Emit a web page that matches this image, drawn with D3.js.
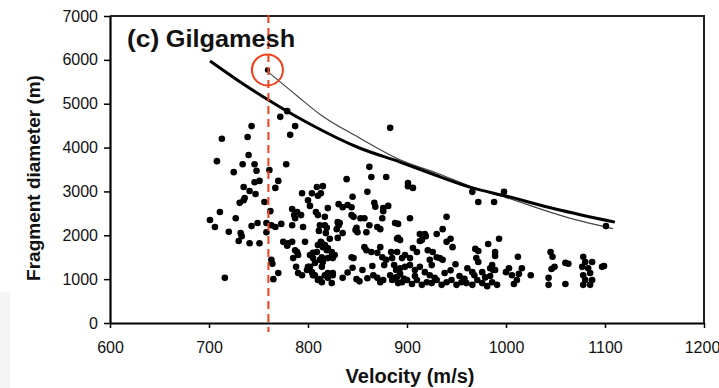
<!DOCTYPE html>
<html>
<head>
<meta charset="utf-8">
<script src="https://cdn.jsdelivr.net/npm/d3@7"></script>
<style>
  body { margin: 0; background: #fff; }
  svg { display: block; font-family: "Liberation Sans", Arial, sans-serif; }
</style>
</head>
<body>
<div id="chart"></div>
<script>
//data
var xTicks = [600, 700, 800, 900, 1000, 1100, 1200];
var yTicks = [0, 1000, 2000, 3000, 4000, 5000, 6000, 7000];

// [velocity m/s, fragment diameter m]
var fragments = [
    // upper left
    [713,4200],[708,3690],[743,4490],[739,4240],[772,4700],[779,4830],[787,4490],[782,4290],
    [740,3830],[734,3620],[746,3620],[778,3620],[748,3470],[725,3440],[761,3490],
    [746,3210],[751,3240],[770,3240],[735,3100],[741,3010],[767,3080],[747,2940],
    // mid left
    [736,2850],[731,2740],[735,2800],[756,2760],[711,2530],[701,2350],[727,2390],[762,2550],
    [706,2190],[720,2080],[732,2050],[733,1980],[743,2210],[749,2280],[758,2280],[763,2230],
    [767,2190],[758,2070],[773,2260],[730,1870],[741,1820],[751,1820],[784,2600],[786,2460],
    [784,2230],[775,1850],[780,1820],[784,1850],[789,1620],[779,1760],[763,1440],[764,1350],
    [785,1480],[788,1280],[770,1140],[765,1000],[716,1030],[790,1140],
    // 790 - 890, upper
    [862,3560],[864,3330],[879,3330],[839,3280],[815,3120],[809,3100],[794,2960],[804,2960],
    [813,2960],[810,2900],[800,2800],[845,2880],[860,2990],[802,2670],[831,2710],[835,2640],
    [820,2620],[867,2740],[868,2650],[876,2620],[881,2670],[789,2530],[793,2460],[808,2530],
    [810,2460],[817,2420],[844,2460],[846,2420],[853,2390],[857,2390],[875,2390],[888,2280],
    [830,2300],[831,2230],[862,2230],[870,2190],[795,2190],[812,2230],[817,2230],[787,2390],
    [840,2690],[844,2640],[876,2550],[832,2280],[849,2170],[850,2070],[835,2050],
    // 790 - 890, lower
    [811,2100],[819,2170],[818,2050],[829,2140],[830,1940],[848,2120],[859,2070],[873,2140],
    [797,1850],[822,1920],[890,1920],[787,1660],[790,1550],[802,1550],[810,1780],[813,1850],
    [815,1730],[819,1660],[820,1480],[824,1520],[805,1480],[807,1370],[800,1280],[799,1210],
    [812,1440],[827,1550],[844,1500],[846,1480],[857,1730],[859,1660],[864,1620],[870,1600],
    [873,1730],[875,1500],[879,1440],[877,1320],[884,1620],[885,1480],[887,1320],[889,1210],
    [794,1090],[804,1160],[807,1090],[810,980],[814,930],[817,1090],[820,1030],[824,910],
    [825,1090],[835,1030],[849,1000],[855,1210],[866,1090],[870,1030],[873,930],[876,980],
    [883,1090],[885,980],[888,1030],[891,910],[814,1820],[817,1780],[820,1710],[824,1620],
    [809,1620],[805,1600],[814,1500],[815,1390],[825,1480],[802,1280],[814,1280],[805,1090],
    [812,1000],[820,1140],[825,1140],[840,1150],[860,1020],[852,950],[845,1260],[865,1300],
    // 890 - 1000, upper
    [883,4450],[901,3190],[901,3120],[906,3080],[966,2990],[972,2760],[988,2760],[998,2990],
    [891,2260],[903,2390],[940,2420],[936,2140],[913,2030],[918,2030],[915,1890],[930,2030],
    [940,1850],[944,1920],[946,1730],[969,1690],[972,1640],[982,1800],[993,1920],[989,1620],
    [989,1530],[970,1480],[972,1390],[986,1320],[987,1210],
    // 890 - 1000, lower
    [891,1940],[893,1890],[913,1870],[919,1980],[949,1340],[961,1250],[966,1160],[976,1160],
    [984,1250],[989,1210],[890,1620],[895,1480],[898,1550],[903,1480],[906,1710],[910,1620],
    [921,1660],[926,1620],[930,1500],[933,1480],[936,1440],[923,1440],[925,1320],[893,1250],
    [898,1280],[903,1320],[908,1210],[913,1280],[918,1160],
    [890,1050],[895,930],[900,980],[905,890],[910,980],[915,870],[920,930],[925,910],
    [930,980],[935,870],[940,930],[945,980],[950,870],[955,930],[960,910],[966,870],
    [971,980],[976,910],[981,840],[986,930],[991,870],
    [893,1120],[908,1070],[923,1090],[938,1140],[953,1070],[968,1090],[984,1070],
    [897,1010],[928,1030],[958,1010],[944,1200],[979,1040],
    // 1000 - 1110
    [1101,2210],[1012,1510],[1003,1250],[1016,1250],[1013,1120],[1006,1090],[1011,980],
    [1008,890],[1000,1160],[1025,1090],[1045,1620],[1047,1510],[1046,1230],[1049,1280],
    [1043,1030],[1043,870],[1060,1370],[1063,1350],[1060,890],[1078,1510],[1080,1390],
    [1087,1390],[1077,1280],[1083,1250],[1078,1090],[1085,1140],[1080,980],[1087,980],
    [1078,870],[1085,870],[1097,1280],[1099,1300]
];

// circled fragment
var highlight = [759, 5770];
var highlightVelocity = 760;

// thick curve, read at a few velocities
var thickCurve = [
    [701,5975],[730,5520],[760,5085],[800,4560],[852,3990],[893,3670],
    [923,3420],[966,3080],[999,2900],[1050,2600],[1110,2300]
];

// thin curve from the circled fragment
var thinCurve = [
    [760,5720],[790,5160],[812,4760],[852,4220],[893,3720],[930,3420],
    [966,3100],[1000,2860],[1060,2420],[1108,2150]
];
//end data

var width = 719, height = 388;
var margin = {top: 16, right: 15, bottom: 65, left: 110};

var svg = d3.select('#chart').append('svg')
    .attr('width', width)
    .attr('height', height);

// faint grey band at the lower left edge
svg.append('rect')
    .attr('x', 0).attr('y', 292)
    .attr('width', 10).attr('height', 96)
    .attr('fill', '#f5f5f5');

var x = d3.scaleLinear()
    .domain([600, 1200])
    .range([margin.left, width - margin.right]);

var y = d3.scaleLinear()
    .domain([0, 7000])
    .range([height - margin.bottom, margin.top]);

// frame top and right
svg.append('path')
    .attr('d', 'M' + x(600) + ',' + y(7000) + 'H' + x(1200) + 'V' + y(0))
    .attr('fill', 'none')
    .attr('stroke', '#222')
    .attr('stroke-width', 2);

var fmt = d3.format('d');

var xAxis = svg.append('g')
    .attr('transform', 'translate(0,' + y(0) + ')')
    .call(d3.axisBottom(x).tickValues(xTicks).tickFormat(fmt)
        .tickSize(5).tickPadding(14).tickSizeOuter(0));

var yAxis = svg.append('g')
    .attr('transform', 'translate(' + x(600) + ',0)')
    .call(d3.axisLeft(y).tickValues(yTicks).tickFormat(fmt)
        .tickSize(6).tickPadding(6).tickSizeOuter(0));

[xAxis, yAxis].forEach(function(a){
    a.select('.domain').attr('stroke', '#000').attr('stroke-width', 2.2);
    a.selectAll('.tick line').attr('stroke', '#000').attr('stroke-width', 1.5);
    a.selectAll('.tick text')
        .attr('fill', '#111')
        .style('font-size', '16px')
        .style('font-family', '"Liberation Sans", Arial, sans-serif');
});

// last label sits right at the edge, pull it in a little
xAxis.selectAll('.tick text')
    .filter(function(d){ return d === 1200; })
    .attr('dx', -2);

var line = d3.line()
    .x(function(d){ return x(d[0]); })
    .y(function(d){ return y(d[1]); })
    .curve(d3.curveMonotoneX);

// thin curve
svg.append('path')
    .datum(thinCurve)
    .attr('d', line)
    .attr('fill', 'none')
    .attr('stroke', '#444')
    .attr('stroke-width', 1.2);

// thick curve
svg.append('path')
    .datum(thickCurve)
    .attr('d', line)
    .attr('fill', 'none')
    .attr('stroke', '#000')
    .attr('stroke-width', 3);

// fragments
svg.append('g').selectAll('circle')
    .data(fragments.concat([highlight]))
    .enter().append('circle')
    .attr('cx', function(d){ return x(d[0]); })
    .attr('cy', function(d){ return y(d[1]); })
    .attr('r', function(d){ return d === highlight ? 2.6 : 3.3; })
    .attr('fill', '#000');

// red dashed line
svg.append('line')
    .attr('x1', x(highlightVelocity)).attr('x2', x(highlightVelocity))
    .attr('y1', y(7000) - 1).attr('y2', y(0) + 9)
    .attr('stroke', '#f0401c')
    .attr('stroke-width', 2)
    .attr('stroke-dasharray', '8,5');

// red circle
svg.append('circle')
    .attr('cx', x(highlight[0]))
    .attr('cy', y(highlight[1]))
    .attr('r', 15.5)
    .attr('fill', 'none')
    .attr('stroke', '#f0401c')
    .attr('stroke-width', 2);

// title (text in the reference is slightly stretched sideways)
var title = svg.append('text')
    .attr('transform', 'translate(127,47) scale(1.1,1)')
    .attr('fill', '#111')
    .style('font-weight', 'bold');
title.append('tspan').style('font-size', '24px').text('(c)');
title.append('tspan').style('font-size', '23px').attr('dx', 6).text('Gilgamesh');

// axis titles
svg.append('text')
    .attr('x', (x(600) + x(1200)) / 2 + 3)
    .attr('y', 383)
    .attr('text-anchor', 'middle')
    .attr('fill', '#111')
    .style('font-size', '20px')
    .style('font-weight', 'bold')
    .text('Velocity (m/s)');

svg.append('text')
    .attr('transform', 'translate(40,' + 178 + ') rotate(-90)')
    .attr('text-anchor', 'middle')
    .attr('fill', '#111')
    .style('font-size', '19px')
    .style('font-weight', 'bold')
    .text('Fragment diameter (m)');
</script>
</body>
</html>
